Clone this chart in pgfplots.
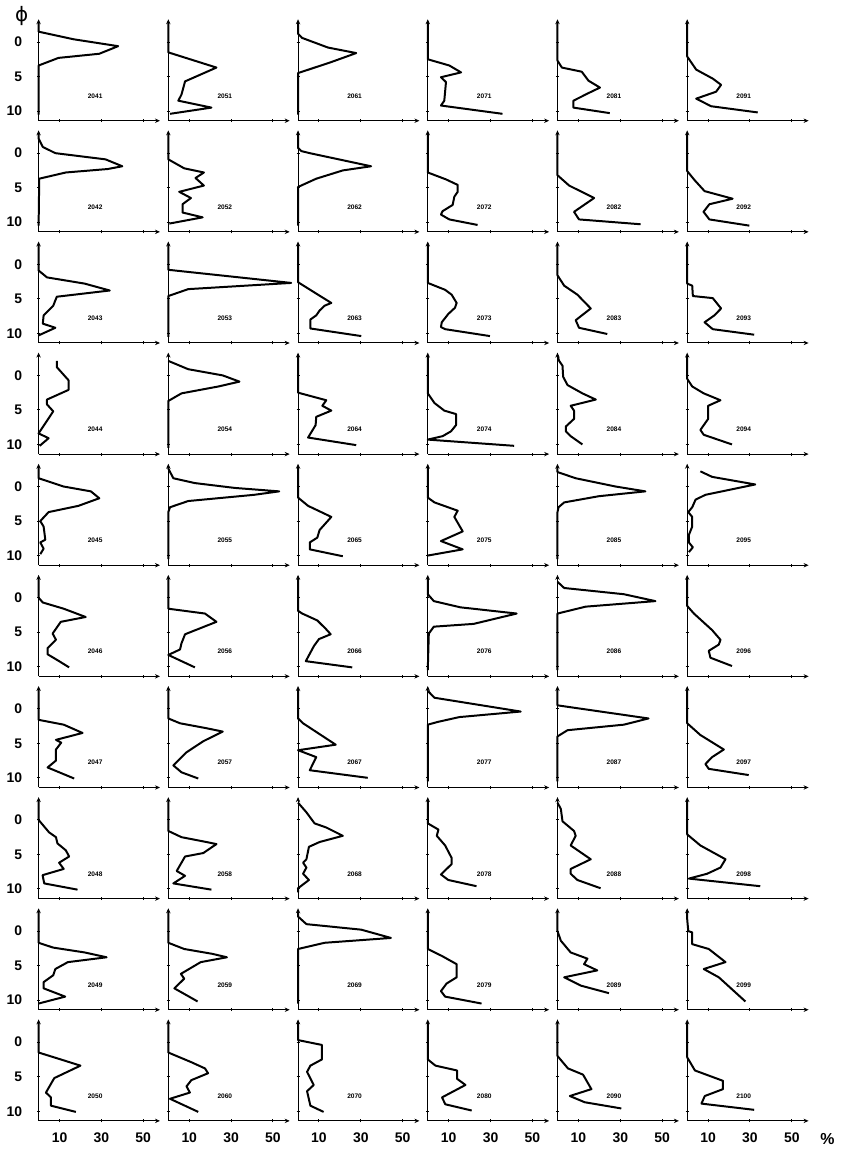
\documentclass[border=0pt]{standalone}
\usepackage{fontspec}
\setmainfont{Liberation Sans}
\newfontfamily\dejavu{DejaVu Sans}
\usepackage{pgfplots}
\pgfplotsset{compat=1.18}
\usepgfplotslibrary{groupplots}
\usetikzlibrary{arrows.meta}
\pgfplotsset{every axis plot post/.append style={black, line width=1pt, line join=round, mark=none}}
\begin{document}
\begin{tikzpicture}
\begin{groupplot}[
  group style={group size=6 by 10, horizontal sep=4.2pt, vertical sep=4.85pt,
    xticklabels at=edge bottom, yticklabels at=edge left},
  width=61pt, height=51pt, scale only axis,
  xmin=0, xmax=58, ymin=-11.4, ymax=3.3,
  axis lines=left, clip=false,
  axis line style={line width=0.5pt, -{Stealth[length=2.5pt,width=2.2pt]}},
  xtick={10,30,50}, xticklabels={\textbf{10},\textbf{30},\textbf{50}},
  ytick={-10,-5,0}, yticklabels={\textbf{10},\textbf{5},\textbf{0}},
  major tick length=1.5pt, tick style={black, line width=0.5pt},
  ticklabel style={font=\fontsize{7}{8}\selectfont\bfseries},
  yticklabel style={xshift=-4pt},
  xticklabel style={yshift=-1.5pt},
  y filter/.expression={-y},
]
% row 1
\nextgroupplot
\addplot coordinates {(0,-2.8)(0,-1.5)(16.7,-0.4)(38,0.6)(29,1.7)(9.5,2.3)(0,3.4)(0,10.5)};
\nextgroupplot
\addplot coordinates {(0,-2.8)(0,1.5)(23,3.7)(8,5.7)(6.3,7.6)(4.8,8.5)(20.6,9.5)(0.8,10.4)};
\nextgroupplot
\addplot coordinates {(0,-2.8)(0,-1.2)(1.9,-0.6)(14.3,0.8)(27.8,1.6)(15.9,2.9)(0,4.5)(0,10.5)};
\nextgroupplot
\addplot coordinates {(0,-2.8)(0,2.5)(10.3,3.4)(15.9,4.4)(6.3,5.1)(8.7,5.8)(7.9,8.5)(6.3,9.2)(35.7,10.4)};
\nextgroupplot
\addplot coordinates {(0,-2.8)(0,2.7)(2.1,3.7)(11.6,4.3)(14.8,5.6)(20.3,6.6)(14.8,7.4)(7.6,8.5)(7.6,9.5)(25,10.3)};
\nextgroupplot
\addplot coordinates {(0,-2.8)(0,2.1)(4.3,4)(12.2,5.3)(16.2,6.2)(13.8,7.2)(4.3,8.2)(11.4,9.3)(33.7,10.2)};
% row 2
\nextgroupplot
\addplot coordinates {(0,-2.8)(0,-2.1)(2,-0.9)(8,0)(32,0.9)(40,1.9)(33,2.3)(13,2.8)(0.3,3.7)(0,10.5)};
\nextgroupplot
\addplot coordinates {(0,-2.8)(0,0.9)(7.6,2.2)(17,2.8)(13,3.6)(17,4.7)(5.2,5.6)(10.8,6.5)(6.8,7.4)(6.8,8.6)(16.4,9.3)(0.5,10.2)};
\nextgroupplot
\addplot coordinates {(0,-2.8)(0,-0.75)(1.6,-0.3)(5.6,0)(34.9,1.9)(21.4,2.5)(8.7,3.7)(0,4.9)(0,10.5)};
\nextgroupplot
\addplot coordinates {(0,-2.8)(0,2.8)(8.7,3.8)(14.3,4.6)(14.3,5.6)(12.7,6.3)(11.9,7.5)(7.1,8.4)(6.3,8.9)(10.3,9.6)(23.8,10.4)};
\nextgroupplot
\addplot coordinates {(0,-2.8)(0,3.2)(5.6,4.7)(17.5,6.5)(7.9,8.5)(10.3,9.6)(39.7,10.3)};
\nextgroupplot
\addplot coordinates {(0,-2.8)(0,2.6)(3.5,3.9)(8.3,5.5)(21.7,6.6)(10.6,7.4)(7.8,8.5)(10.6,9.6)(29.7,10.5)};
% row 3
\nextgroupplot
\addplot coordinates {(0,-2.8)(0,0.9)(4,1.9)(22,2.8)(34,3.8)(8.7,4.7)(7,6)(2.4,7.4)(2,8.6)(8,9.2)(0,10.3)};
\nextgroupplot
\addplot coordinates {(0,-2.8)(0,0.8)(58.7,2.7)(9.5,3.6)(0,4.6)(0,10.5)};
\nextgroupplot
\addplot coordinates {(0,-2.8)(0,2.6)(9.5,4.4)(15.9,5.6)(12.7,6)(10.3,6.7)(8.7,7.4)(5.9,8)(5.9,9.3)(30.2,10.4)};
\nextgroupplot
\addplot coordinates {(0,-2.8)(0,2.7)(8.3,3.7)(11.4,4.4)(13.8,5.6)(13,6.3)(9.8,7.2)(6.7,8.4)(6.3,9.1)(8.3,9.4)(29.7,10.4)};
\nextgroupplot
\addplot coordinates {(0,-2.8)(0,1.6)(3.2,3.1)(9.5,4.4)(15.9,6.4)(8.7,8.1)(10.3,9.2)(23.8,10.1)};
\nextgroupplot
\addplot coordinates {(0,-2.8)(0,2.8)(2.4,3.1)(2.7,4.6)(12.2,4.9)(16.2,6.4)(13,7.4)(8.3,8.4)(12.2,9.4)(32,10.2)};
% row 4
\nextgroupplot
\addplot coordinates {(8.7,-2.1)(8.7,-1.2)(14.3,0.7)(14.3,2.1)(4,3.5)(4,4.2)(7,5.2)(0,8.4)(4.8,9.1)(0.5,10.2)};
\nextgroupplot
\addplot coordinates {(0,-2.1)(9.5,-0.9)(26,0)(34,0.9)(24,1.6)(6.3,2.6)(0,3.7)(0,10.5)};
\nextgroupplot
\addplot coordinates {(0,-2.8)(0,2.5)(13.5,3.6)(11.6,4.4)(15.9,5.1)(8.7,6)(8.4,7.2)(4.8,9)(27.8,10.1)};
\nextgroupplot
\addplot coordinates {(0,-2.8)(0,2.6)(3.2,4)(7.9,5.1)(13.5,5.6)(13.5,7.2)(11.1,8.1)(7.1,8.8)(0,9.3)(41.3,10.2)};
\nextgroupplot
\addplot coordinates {(0,-2.8)(0.8,-2.1)(2.4,-1.4)(2.7,0.2)(4.8,1.4)(11.9,2.6)(18.3,3.5)(6.3,4.4)(7.9,5.1)(7.9,6.3)(4,7.4)(4,8.1)(6.3,8.8)(11.9,10)};
\nextgroupplot
\addplot coordinates {(0,-2.8)(0,0.5)(2.4,1.6)(7.9,2.6)(15.9,3.6)(10,4.4)(10,6.3)(6.3,7.9)(7.9,8.6)(21.4,10)};
% row 5
\nextgroupplot
\addplot coordinates {(0,-2.8)(0,-1.2)(12,0)(25,0.7)(29,1.7)(19,2.8)(4.8,3.7)(0.8,5)(2.4,5.8)(3.2,7.7)(0.8,8.1)(2.4,9)(0.8,9.8)};
\nextgroupplot
\addplot coordinates {(0,-2.8)(0,-2.6)(2.4,-1.2)(12.7,-0.5)(31.7,0.2)(53,0.7)(41,1.2)(9.5,2.1)(0.8,3)(0,3.7)(0,10.5)};
\nextgroupplot
\addplot coordinates {(0,-2.8)(0,1.6)(4.8,2.8)(15.9,4.4)(10.3,6.3)(9.2,7.4)(5.6,8.1)(5.6,9.1)(21.4,10.1)};
\nextgroupplot
\addplot coordinates {(0,-2.8)(0,1.6)(3.2,2.3)(14.3,3.5)(12.7,4.4)(16.7,6.5)(6.3,7.9)(16.7,9.1)(0,10)};
\nextgroupplot
\addplot coordinates {(0,-2.8)(0,-2.1)(8.7,-1.2)(27.8,0)(42,0.7)(19.8,1.4)(3.2,2.3)(0.5,3)(0,3.7)(0,10.5)};
\nextgroupplot
\addplot coordinates {(6.3,-2.2)(11.9,-1.4)(32.5,-0.3)(8.7,1.2)(4,1.9)(2.4,3)(0.5,3.7)(2.4,4.4)(2.4,5.8)(0.8,7)(0.8,8.1)(2.7,8.8)(0.8,9.5)};
% row 6
\nextgroupplot
\addplot coordinates {(0,-2.8)(0,0)(2,0.7)(12,1.6)(22.5,2.8)(10.6,3.5)(6.7,5.2)(8.3,6.1)(4.3,7.3)(4.3,8.2)(9.8,9.2)(14.6,10.1)};
\nextgroupplot
\addplot coordinates {(0,-2.8)(0,1.6)(17.5,2.3)(23,3.5)(8,5.3)(6.3,6.6)(5.6,7.5)(0,8.3)(12.7,10.1)};
\nextgroupplot
\addplot coordinates {(0,-2.8)(0,1.9)(2,2.3)(9.2,3.3)(13.2,4.5)(15.6,5.3)(10,6)(7.6,7)(3.7,9.2)(25.9,10.1)};
\nextgroupplot
\addplot coordinates {(0,-2.8)(0,-0.5)(2.9,0.5)(15.6,1.4)(42.5,2.3)(21.9,3.8)(2.9,4.2)(0.5,5.2)(0,10.5)};
\nextgroupplot
\addplot coordinates {(0,-2.3)(3.2,-1.4)(31.7,-0.5)(46.8,0.5)(13.5,1.3)(0,2.3)(0,10.5)};
\nextgroupplot
\addplot coordinates {(0,-2.8)(0,1.2)(3.2,2.3)(11.9,4.7)(15.9,6.1)(15.1,6.8)(10.3,7.7)(11.1,8.7)(21.4,9.9)};
% row 7
\nextgroupplot
\addplot coordinates {(0,-2.8)(0,1.6)(12,2.3)(21,3.5)(8.3,4.5)(10.8,4.9)(8.3,5.9)(8.3,7.5)(4.3,8.5)(17,10.1)};
\nextgroupplot
\addplot coordinates {(0,-2.8)(0,1.4)(5.6,2.1)(18,2.8)(26,3.3)(16.7,4.7)(8.7,6.3)(2.4,8.2)(6.3,9.2)(14.3,10.1)};
\nextgroupplot
\addplot coordinates {(0,-2.8)(0,1.4)(2.4,2.1)(18,5.2)(0,6)(8.7,7)(5.6,8.9)(33.3,10)};
\nextgroupplot
\addplot coordinates {(0,-2.6)(3.2,-1.6)(44.4,0.4)(15.1,1.2)(4.8,1.9)(0,2.3)(0,10.5)};
\nextgroupplot
\addplot coordinates {(0,-2.8)(0,-0.5)(43.5,1.4)(31.7,2.3)(4.8,3.1)(0,4)(0,10.5)};
\nextgroupplot
\addplot coordinates {(0,-2.8)(0,2.1)(6.3,3.8)(17.5,5.9)(11.9,7)(8.7,8)(10.3,8.7)(29.4,9.6)};
% row 8
\nextgroupplot
\addplot coordinates {(0,-2.8)(0,0)(5,1.8)(8.3,2.5)(9,3.4)(13,4.4)(14.6,5.3)(9.8,6.2)(12,7.1)(1.9,8)(2.7,9.2)(18.6,10.1)};
\nextgroupplot
\addplot coordinates {(0,-2.8)(0,1.6)(6.3,2.5)(18.2,3.2)(23,3.5)(16.7,4.8)(8,5.3)(4,7.4)(8,8.1)(2.4,9.2)(20.6,10.1)};
\nextgroupplot
\addplot coordinates {(0,-2.5)(4,-1.1)(7.9,0.5)(13.5,1.1)(21.4,2.3)(10.3,3.2)(5.2,3.9)(4,5.7)(2.4,6.2)(4,6.9)(2.4,7.8)(5.2,8.7)(0,9.9)(0,10.5)};
\nextgroupplot
\addplot coordinates {(0,-2.8)(0,0.5)(5.1,1.4)(4.3,2.3)(8.3,3.7)(11.4,5.5)(11.4,6.4)(6.3,7.9)(9.8,8.7)(23.3,9.6)};
\nextgroupplot
\addplot coordinates {(0,-2.5)(1.6,-1.6)(2.4,0.2)(7.9,1.6)(8.7,2.3)(6.3,3.7)(15.9,5.7)(6.3,7.1)(6.3,7.8)(9.5,8.7)(20.6,9.9)};
\nextgroupplot
\addplot coordinates {(0,-2.8)(0,2.1)(6.3,3.7)(18.3,5.7)(15.9,6.9)(9.5,7.8)(0.8,8.5)(34.9,9.6)};
% row 9
\nextgroupplot
\addplot coordinates {(0,-2.8)(0,1.7)(7,2.4)(22,3.1)(32.5,3.8)(14,4.5)(8,5.5)(7,6.4)(2.4,7.4)(2.4,8.3)(12.7,9.5)(0,10.5)};
\nextgroupplot
\addplot coordinates {(0,-2.8)(0,1.7)(7.6,2.6)(21,3.3)(28,3.8)(15.5,4.5)(6,6.2)(7.6,6.9)(2.9,8.3)(14,10.2)};
\nextgroupplot
\addplot coordinates {(0,-2.8)(0,-2.1)(4,-1)(30.2,-0.2)(44.4,1)(12.7,1.7)(0,2.6)(0,10.5)};
\nextgroupplot
\addplot coordinates {(0,-2.8)(0,2.6)(6.7,3.6)(13.8,4.8)(13.8,6.7)(9,7.6)(6.3,8.7)(8.3,9.5)(25.7,10.5)};
\nextgroupplot
\addplot coordinates {(0,-2.8)(0,0)(1.6,1.4)(6.3,3.1)(14.3,4)(12.7,4.8)(19,5.7)(3.2,6.7)(11.1,7.9)(24.6,9)};
\nextgroupplot
\addplot coordinates {(0,-2.8)(0,-1.7)(0.5,0)(2.4,0.2)(2.4,1.9)(10.3,2.6)(18.3,4.5)(7.9,5.5)(15.1,6.7)(27.8,10.2)};
% row 10
\nextgroupplot
\addplot coordinates {(0,-2.8)(0,1.5)(10.6,2.5)(20,3.4)(7.5,5.2)(3.5,7.3)(5.9,8)(5.9,9.2)(17.8,10.1)};
\nextgroupplot
\addplot coordinates {(0,-2.8)(0,1.5)(11,2.9)(17.5,3.8)(19,4.5)(11,5.5)(8.7,6.4)(10.3,7.3)(0.8,8.2)(14.3,10.1)};
\nextgroupplot
\addplot coordinates {(0,-2.8)(0,-0.3)(11.4,0.4)(11.4,2.5)(5.9,3.4)(4.3,4.3)(7.5,6.2)(4.3,7.1)(5.9,9.2)(12.2,10.1)};
\nextgroupplot
\addplot coordinates {(0,-2.8)(0,2.5)(3.7,3.4)(14,4.1)(14,5.3)(18,6.2)(6.8,8)(8.4,9)(21,9.9)};
\nextgroupplot
\addplot coordinates {(0,-2.8)(0,2)(5,3.8)(12.2,4.7)(16.2,6.8)(5.9,7.8)(13,8.7)(30.5,9.6)};
\nextgroupplot
\addplot coordinates {(0,-2.8)(0,2.2)(3.7,4.1)(17.1,5.6)(17.1,6.8)(8.4,7.8)(6.8,8.9)(32,9.8)};
\end{groupplot}
\foreach \c in {1,...,6}{%
  \foreach \r in {1,...,10}{%
    \pgfmathtruncatemacro{\yy}{2030+10*\c+\r}%
    \node[font=\fontsize{3.3}{4}\selectfont\bfseries, inner sep=0pt]
      at ([shift={(28.4pt,12.5pt)}]group c\c r\r.south west) {\yy};
  }%
}
\node[font=\dejavu\fontsize{10}{11}\selectfont] at ([shift={(-8.5pt,1.5pt)}]group c1r1.north west) {ϕ};
\node[font=\fontsize{8}{9}\selectfont\bfseries] at ([shift={(9.5pt,-9pt)}]group c6r10.south east) {\%};
\path (group c1r1.north west) ++(-17.5pt,7.5pt) rectangle ++(421.5pt,-575.5pt);
\end{tikzpicture}
\end{document}
